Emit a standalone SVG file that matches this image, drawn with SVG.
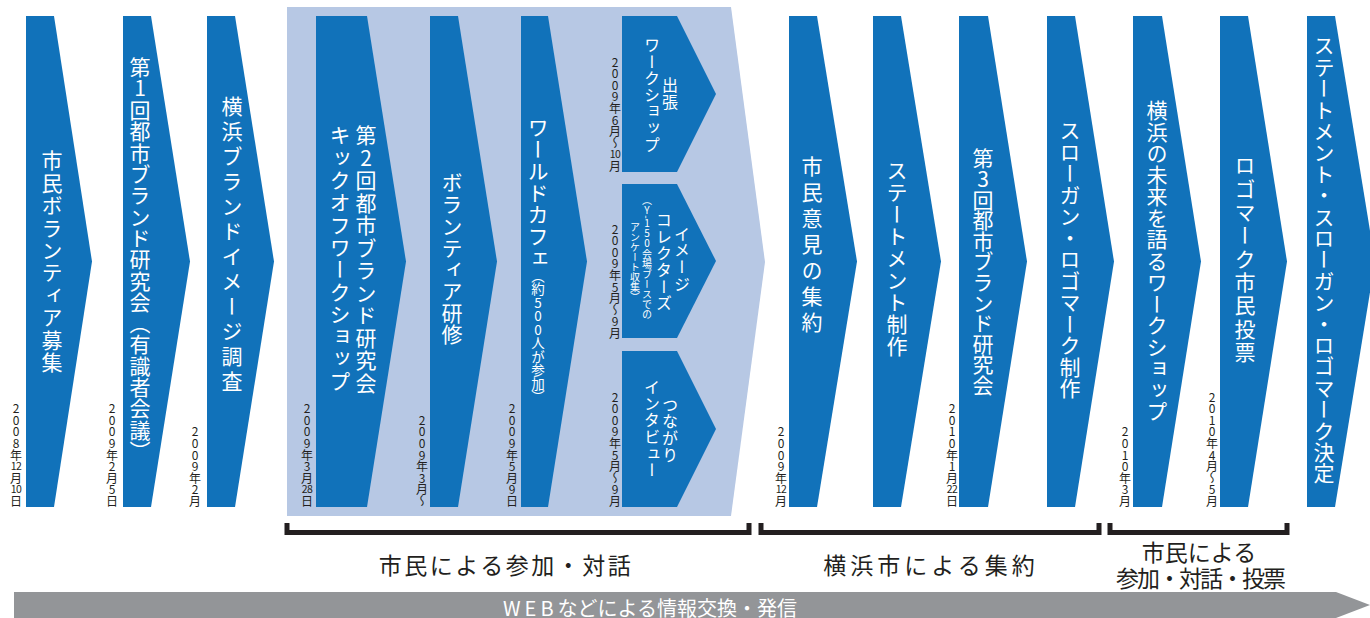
<svg xmlns="http://www.w3.org/2000/svg" width="1370" height="618" viewBox="0 0 1370 618">
<style>
.arr{fill:#1172ba}
.v{writing-mode:vertical-rl;font-family:"Noto Sans CJK JP","Noto Sans CJK SC",sans-serif;fill:#fff;font-size:21px}
.s{font-size:16px}
.xs{font-size:10px}
.up{text-orientation:upright}
.dv{writing-mode:vertical-rl;text-orientation:upright;font-family:"Noto Sans CJK JP",sans-serif;font-size:12px;letter-spacing:-0.4px;fill:#231f20}
.tcy{font-family:"Noto Sans CJK JP",sans-serif;font-size:10.5px;letter-spacing:-0.5px;fill:#231f20;text-anchor:middle}
.br{fill:none;stroke:#231f20;stroke-width:5}
.lb{font-family:"Noto Sans CJK JP",sans-serif;font-size:23px;fill:#231f20;text-anchor:middle}
</style>
<rect width="1370" height="618" fill="#fff"/>
<g id="phase-bg"><path d="M287 7 H731 L765 262 L731 516 H287 Z" fill="#b7c8e4"/></g>
<g id="web-bar">
<path d="M14 592 H1336 L1370 605 L1336 618 H14 Z" fill="#939598"/>
<text x="650" y="615.5" font-family="Noto Sans CJK JP, sans-serif" font-size="20" fill="#fff" text-anchor="middle"><tspan letter-spacing="4">WEB</tspan>などによる情報交換・発信</text>
</g>
<g id="n1"><path class="arr" d="M26 16 H54 L92 261.5 L54 507 H26 Z"/><text class="v" x="52" y="150" letter-spacing="1.4">市民ボランティア募集</text></g>
<g id="n2"><path class="arr" d="M123 16 H151 L190 261.5 L151 507 H123 Z"/><text class="v" x="140" y="57" letter-spacing="0.3">第<tspan class="up">1</tspan>回都市ブランド研究会（有識者会議）</text></g>
<g id="n3"><path class="arr" d="M207 16 H235 L274 261.5 L235 507 H207 Z"/><text class="v" x="232" y="96" letter-spacing="4">横浜ブランドイメージ調査</text></g>
<g id="n4"><path class="arr" d="M316 16 H367 L406 261.5 L367 507 H316 Z"/><text class="v" x="366" y="125" letter-spacing="1.5">第<tspan class="up">2</tspan>回都市ブランド研究会</text><text class="v" x="340" y="125" letter-spacing="1.3">キックオフワークショップ</text></g>
<g id="n5"><path class="arr" d="M430 16 H458 L497 261.5 L458 507 H430 Z"/><text class="v" x="452" y="172" letter-spacing="0.7">ボランティア研修</text></g>
<g id="n6"><path class="arr" d="M521 16 H548 L587 261.5 L548 507 H521 Z"/><text class="v" x="538" y="117" letter-spacing="0.7">ワールドカフェ<tspan font-size="13.5" letter-spacing="0">（約<tspan class="up">500</tspan>人が参加）</tspan></text></g>
<g id="n6a"><path class="arr" d="M622 16 H677 L716 94 L677 172 H622 Z"/><text class="v s" x="670" y="94" text-anchor="middle" letter-spacing="0.6">出張</text><text class="v s" x="652" y="95" text-anchor="middle" letter-spacing="0.6">ワークショップ</text></g>
<g id="n6b"><path class="arr" d="M622 184 H677 L716 261 L677 338 H622 Z"/><text class="v s" x="682" y="259" text-anchor="middle" letter-spacing="0.6">イメージ</text><text class="v s" x="664" y="262" text-anchor="middle" letter-spacing="0.6">コレクターズ</text><text class="v xs" x="647" y="257" text-anchor="middle">（<tspan class="up">Y</tspan>-<tspan class="up">150</tspan>会場ブースでの</text><text class="v xs" x="635" y="262" text-anchor="middle">アンケート収集）</text></g>
<g id="n6c"><path class="arr" d="M622 351 H677 L716 429 L677 507 H622 Z"/><text class="v s" x="670" y="430" text-anchor="middle" letter-spacing="0.6">つながり</text><text class="v s" x="652" y="429" text-anchor="middle" letter-spacing="0.6">インタビュー</text></g>
<g id="n7"><path class="arr" d="M789 16 H817 L857 261.5 L817 507 H789 Z"/><text class="v" x="812" y="156" letter-spacing="5">市民意見の集約</text></g>
<g id="n8"><path class="arr" d="M873 16 H901 L941 261.5 L901 507 H873 Z"/><text class="v" x="897" y="160" letter-spacing="1">ステートメント制作</text></g>
<g id="n9"><path class="arr" d="M959 16 H988 L1027 261.5 L988 507 H959 Z"/><text class="v" x="983" y="148" letter-spacing="-0.4">第<tspan class="up">3</tspan>回都市ブランド研究会</text></g>
<g id="n10"><path class="arr" d="M1047 16 H1075 L1114 261.5 L1075 507 H1047 Z"/><text class="v" x="1070" y="120" letter-spacing="0.5">スローガン・ロゴマーク制作</text></g>
<g id="n11"><path class="arr" d="M1133 16 H1162 L1201 261.5 L1162 507 H1133 Z"/><text class="v" x="1157" y="100" letter-spacing="0.5">横浜の未来を語るワークショップ</text></g>
<g id="n12"><path class="arr" d="M1220 16 H1248 L1287 261.5 L1248 507 H1220 Z"/><text class="v" x="1245" y="155" letter-spacing="2.3">ロゴマーク市民投票</text></g>
<g id="n13"><path class="arr" d="M1307 16 H1335 L1375 261.5 L1335 507 H1307 Z"/><text class="v" x="1324" y="35" letter-spacing="0.4">ステートメント・スローガン・ロゴマーク決定</text></g>
<g id="dates">
<text class="dv" x="16" y="402.6">2008年</text><text class="tcy" x="16" y="470.2">12</text><text class="dv" x="16" y="472.2">月</text><text class="tcy" x="16" y="493.4">10</text><text class="dv" x="16" y="495.4">日</text>
<text class="dv" x="112" y="402.6">2009年2月5日</text>
<text class="dv" x="195" y="425.8">2009年2月</text>
<text class="dv" x="307" y="402.6">2009年3月</text><text class="tcy" x="307" y="493.4">28</text><text class="dv" x="307" y="495.4">日</text>
<text class="dv" x="422" y="414.2">2009年3月～</text>
<text class="dv" x="512" y="402.6">2009年5月9日</text>
<text class="dv" x="615" y="56">2009年6月～</text><text class="tcy" x="615" y="158.4">10</text><text class="dv" x="615" y="160.4">月</text>
<text class="dv" x="615" y="223">2009年5月～9月</text>
<text class="dv" x="615" y="391">2009年5月～9月</text>
<text class="dv" x="781" y="425.8">2009年</text><text class="tcy" x="781" y="493.4">12</text><text class="dv" x="781" y="495.4">月</text>
<text class="dv" x="952" y="402.6">2010年1月</text><text class="tcy" x="952" y="493.4">22</text><text class="dv" x="952" y="495.4">日</text>
<text class="dv" x="1125" y="425.8">2010年3月</text>
<text class="dv" x="1212" y="391">2010年4月～5月</text>
</g>
<g id="connectors">
<path class="br" d="M287 523 V532.5 H749 V523"/>
<path class="br" d="M761 523 V532.5 H1099 V523"/>
<path class="br" d="M1110 523 V532.5 H1287 V523"/>
</g>
<g id="labels">
<text class="lb" x="506" y="574" letter-spacing="2.5">市民による参加・対話</text>
<text class="lb" x="931" y="574" letter-spacing="4">横浜市による集約</text>
<text class="lb" x="1199" y="561">市民による</text>
<text class="lb" x="1200" y="587" letter-spacing="-2">参加・対話・投票</text>
</g>
</svg>
